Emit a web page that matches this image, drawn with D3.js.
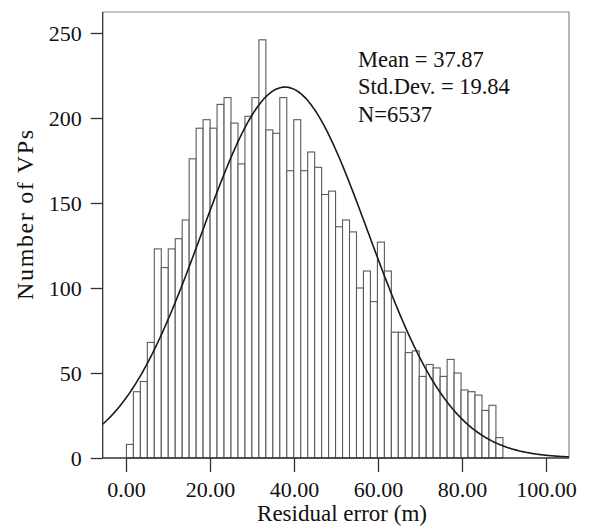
<!DOCTYPE html>
<html>
<head>
<meta charset="utf-8">
<script src="https://cdn.jsdelivr.net/npm/d3@7"></script>
<style>
  html, body { margin: 0; padding: 0; background: #fff; }
  svg { display: block; }
  text { font-family: "Liberation Serif", "DejaVu Serif", serif; fill: #111; }
</style>
</head>
<body>
<svg id="chart" width="591" height="529"></svg>
<script>
// ---- data ----
const binStart = 0.1;
const binWidth = 1.66;
const counts = [
  8, 39, 45, 68, 123, 112, 123, 129, 140, 176,
  194, 199, 194, 208, 212, 197, 173, 201, 212, 246,
  193, 191, 212, 169, 199, 169, 180, 171, 155, 157,
  136, 140, 133, 100, 110, 92, 127, 110, 74, 74,
  62, 63, 48, 55, 53, 48, 58, 50, 40, 39,
  37, 28, 31, 12
];
const xTicks = [0, 20, 40, 60, 80, 100];
const yTicks = [0, 50, 100, 150, 200, 250];
const statMean = 37.87;
const statSD = 19.84;
const statN = 6537;
const statLines = ["Mean = 37.87", "Std.Dev. = 19.84", "N=6537"];
const xTitle = "Residual error (m)";
const yTitle = "Number of VPs";

(function () {
// ---- layout ----
const pLeft = 102.7, pRight = 569, pTop = 12, pBottom = 458;
const svg = d3.select("#chart");

const x = d3.scaleLinear().domain([-5.55, 105.48]).range([pLeft, pRight]);
const y = d3.scaleLinear().domain([0, (pBottom - pTop) / 1.7]).range([pBottom, pTop]);

const bins = counts.map((c, i) => ({ x0: binStart + i * binWidth, x1: binStart + (i + 1) * binWidth, c }));

// frame (top and right)
svg.append("path")
  .attr("d", `M${pLeft},${pTop}H${pRight}V${pBottom}`)
  .attr("fill", "none").attr("stroke", "#888").attr("stroke-width", 1.2);

// bars
svg.append("g").selectAll("rect").data(bins).join("rect")
  .attr("x", d => x(d.x0))
  .attr("width", d => x(d.x1) - x(d.x0))
  .attr("y", d => y(d.c))
  .attr("height", d => y(0) - y(d.c))
  .attr("fill", "#fff")
  .attr("stroke", "#5a5a5a")
  .attr("stroke-width", 1.1);

// normal curve
const k = statN * binWidth / (statSD * Math.sqrt(2 * Math.PI));
const xs = d3.range(x.domain()[0], x.domain()[1] + 0.01, 0.25);
const line = d3.line()
  .x(v => x(v))
  .y(v => y(k * Math.exp(-0.5 * Math.pow((v - statMean) / statSD, 2))))
  .curve(d3.curveBasis);
svg.append("path").datum(xs)
  .attr("d", line)
  .attr("fill", "none").attr("stroke", "#1a1a1a").attr("stroke-width", 1.6);

// axes
const xAxis = d3.axisBottom(x).tickValues(xTicks).tickFormat(d3.format(".2f"))
  .tickSize(14).tickPadding(9).tickSizeOuter(0);
const gx = svg.append("g").attr("transform", `translate(0,${pBottom})`).call(xAxis);
gx.select(".domain").remove();
gx.append("line").attr("x1", pLeft).attr("x2", pRight).attr("stroke", "#333").attr("stroke-width", 1.3);
gx.selectAll(".tick line").attr("stroke", "#333").attr("stroke-width", 1.3);
gx.selectAll(".tick text").attr("font-size", 22).attr("fill", "#111")
  .attr("font-family", '"Liberation Serif", serif');

const yAxis = d3.axisLeft(y).tickValues(yTicks).tickFormat(d3.format("d"))
  .tickSize(12).tickPadding(9).tickSizeOuter(0);
const gy = svg.append("g").attr("transform", `translate(${pLeft},0)`).call(yAxis);
gy.select(".domain").remove();
gy.append("line").attr("y1", pTop).attr("y2", pBottom).attr("stroke", "#333").attr("stroke-width", 1.3);
gy.selectAll(".tick line").attr("stroke", "#333").attr("stroke-width", 1.3);
gy.selectAll(".tick text").attr("font-size", 22).attr("fill", "#111")
  .attr("font-family", '"Liberation Serif", serif');

// titles
svg.append("text")
  .attr("x", 342).attr("y", 521)
  .attr("text-anchor", "middle").attr("font-size", 23)
  .text(xTitle);

svg.append("text")
  .attr("transform", "translate(33,215) rotate(-90)")
  .attr("text-anchor", "middle").attr("font-size", 24)
  .attr("textLength", 170).attr("lengthAdjust", "spacing")
  .text(yTitle);

// stats block
svg.append("g").selectAll("text").data(statLines).join("text")
  .attr("x", 358)
  .attr("y", (d, i) => 66.7 + i * 27.5)
  .attr("font-size", 22.5)
  .text(d => d);
})();
</script>
</body>
</html>
